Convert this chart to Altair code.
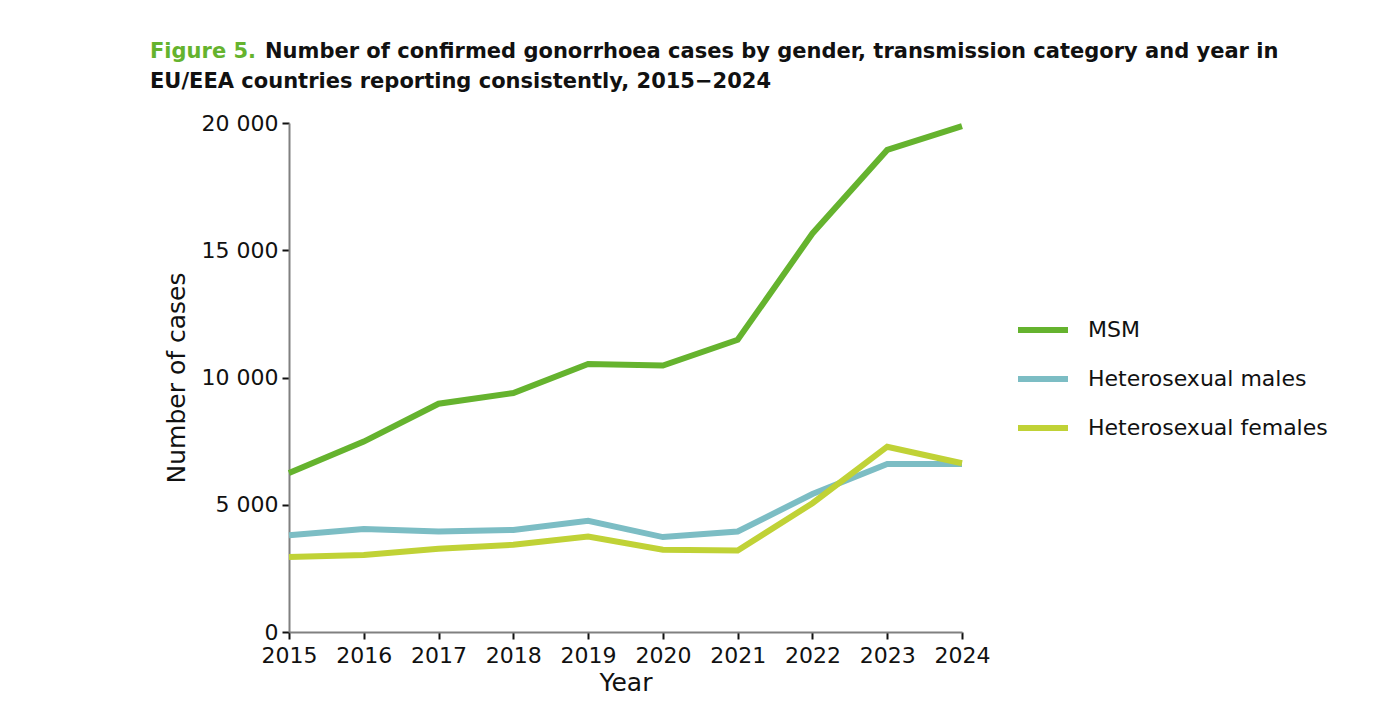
import altair as alt
import pandas as pd

# Confirmed gonorrhoea cases, EU/EEA countries reporting consistently
years = [2015, 2016, 2017, 2018, 2019, 2020, 2021, 2022, 2023, 2024]
msm = [6250, 7480, 8970, 9390, 10530, 10470, 11480, 15660, 18940, 19880]
het_males = [3800, 4050, 3950, 4010, 4370, 3730, 3950, 5420, 6600, 6600]
het_females = [2950, 3030, 3270, 3430, 3750, 3230, 3200, 5060, 7280, 6630]

groups = ["MSM", "Heterosexual males", "Heterosexual females"]
colours = ["#65B32E", "#7CBDC4", "#C0D236"]
y_ticks = [0, 5000, 10000, 15000, 20000]

title_prefix = "Figure 5."
title_line1 = "Number of confirmed gonorrhoea cases by gender, transmission category and year in"
title_line2 = "EU/EEA countries reporting consistently, 2015\u22122024"

rows = []
for name, series in zip(groups, [msm, het_males, het_females]):
    for yr, val in zip(years, series):
        rows.append({"Year": yr, "Group": name, "Cases": val})
df = pd.DataFrame(rows)
df["order"] = df["Group"].map({g: i for i, g in enumerate(groups)})

FONT = "DejaVu Sans"

lines = alt.Chart(df).mark_line(strokeWidth=6, strokeJoin="miter", strokeCap="butt").encode(
    x=alt.X(
        "Year:Q",
        scale=alt.Scale(domain=[2015, 2024], nice=False, zero=False),
        axis=alt.Axis(values=years, format="d", title="Year", grid=False,
                      labelOverlap=False, labelFlush=False),
    ),
    y=alt.Y(
        "Cases:Q",
        scale=alt.Scale(domain=[0, 20000], nice=False),
        axis=alt.Axis(
            values=y_ticks,
            title="Number of cases",
            grid=False,
            labelExpr="datum.value >= 1000 ? floor(datum.value / 1000) + ' 000' : datum.label",
        ),
    ),
    color=alt.Color(
        "Group:N",
        scale=alt.Scale(domain=groups, range=colours),
        sort=groups,
        legend=alt.Legend(
            title=None,
            orient="none",
            legendX=726,
            legendY=179,
            symbolType="stroke",
            symbolSize=2500,
            symbolStrokeWidth=6,
            labelFontSize=22,
            labelFont=FONT,
            labelColor="#111111",
            labelOffset=17,
            labelLimit=0,
            rowPadding=9,
        ),
    ),
    order="order:Q",
    detail="Group:N",
)

blank = pd.DataFrame({"t": [0]})
title_style = dict(font=FONT, fontWeight="bold", fontSize=21, align="left", baseline="alphabetic")

t_prefix = alt.Chart(blank).mark_text(text=title_prefix, color="#65B32E", **title_style).encode(
    x=alt.value(-139), y=alt.value(-65)
)
t_line1 = alt.Chart(blank).mark_text(text=title_line1, color="#111111", **title_style).encode(
    x=alt.value(-24), y=alt.value(-65)
)
t_line2 = alt.Chart(blank).mark_text(text=title_line2, color="#111111", **title_style).encode(
    x=alt.value(-139), y=alt.value(-35)
)

chart = (
    alt.layer(lines, t_prefix, t_line1, t_line2)
    .properties(
        width=673,
        height=509,
        autosize=alt.AutoSizeParams(type="none"),
        padding={"left": 289, "top": 123, "right": 431, "bottom": 88},
        background="white",
    )
    .configure_view(stroke=None)
    .configure_axis(
        labelFont=FONT,
        titleFont=FONT,
        labelFontSize=22,
        titleFontSize=25,
        titleFontWeight="normal",
        labelColor="#111111",
        titleColor="#111111",
        domainColor="#808080",
        domainWidth=2,
        tickColor="#111111",
        tickWidth=2,
        tickSize=7,
    )
    .configure_axisY(labelPadding=4, titlePadding=12)
    .configure_axisX(labelPadding=6, titlePadding=4)
)

chart.save("out.html", embed_options={"renderer": "svg", "actions": False})
